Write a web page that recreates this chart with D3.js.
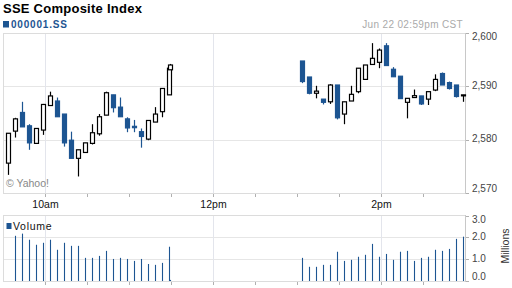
<!DOCTYPE html>
<html>
<head>
<meta charset="utf-8">
<script src="https://cdn.jsdelivr.net/npm/d3@7"></script>
<style>
    body { margin: 0; background: #fff; }
    text { font-family: "Liberation Sans", Arial, sans-serif; }
</style>
</head>
<body>
<script>

// morning session, 5 min bars (bar start time)
const amTimes = ["09:30","09:35","09:40","09:45","09:50","09:55","10:00","10:05","10:10","10:15","10:20","10:25",
                 "10:30","10:35","10:40","10:45","10:50","10:55","11:00","11:05","11:10","11:15","11:20","11:25"];
const amOpen  = [2575.6,2581.6,2585.1,2582.6,2579.3,2581.8,2586.4,2587.25,2584.8,2579.9,2576.5,2577.6,
                 2579.3,2581.1,2584.6,2588.4,2586.1,2583.9,2582.5,2581.5,2580.1,2583.3,2585.25,2588.4];
const amHigh  = [2581.2,2584.1,2587.1,2582.9,2582.1,2586.7,2589.0,2587.9,2584.8,2581.5,2578.1,2579.4,
                 2582.9,2584.8,2589.0,2588.4,2587.9,2584.2,2583.7,2582.1,2583.6,2586.1,2589.6,2593.4];
const amLow   = [2573.4,2580.4,2582.4,2578.1,2579.3,2580.9,2586.4,2584.3,2578.7,2576.5,2573.1,2577.6,
                 2579.1,2580.75,2584.6,2585.1,2584.3,2581.4,2581.4,2578.5,2579.9,2583.3,2584.2,2588.4];
const amClose = [2581.2,2583.9,2582.4,2579.4,2582.1,2586.6,2588.2,2584.3,2579.4,2576.5,2578.1,2579.4,
                 2581.3,2584.3,2588.8,2586.0,2584.3,2582.2,2582.25,2580.6,2583.6,2584.8,2589.6,2593.4];
// volume in millions, first bar has none
const amVolume = [null,2.07,2.17,1.89,1.66,1.75,1.89,1.43,1.75,1.61,1.61,1.06,
                  1.06,1.15,1.38,1.01,1.06,1.01,0.92,1.01,0.78,0.74,0.83,1.57];

// closing print of the morning
const amLast = { time: "11:30", open: 2593.1, high: 2594.2, low: 2593.1, close: 2594.0, volume: 0.05 };

// afternoon session
const pmTimes = ["13:00","13:05","13:10","13:15","13:20","13:25","13:30","13:35","13:40","13:45","13:50","13:55",
                 "14:00","14:05","14:10","14:15","14:20","14:25","14:30","14:35","14:40","14:45","14:50","14:55"];
const pmOpen  = [2594.75,2591.75,2588.7,2587.6,2587.1,2590.25,2584.8,2587.25,2589.0,2591.3,2594.1,2594.5,
                 2597.6,2593.2,2591.9,2587.0,2587.9,2588.2,2587.6,2589.3,2592.4,2590.7,2590.25,2588.4];
const pmHigh  = [2594.75,2591.75,2590.1,2587.6,2590.4,2590.25,2587.1,2590.1,2593.4,2594.0,2598.1,2597.1,
                 2598.1,2593.6,2591.9,2587.75,2589.4,2588.2,2589.0,2592.25,2592.6,2590.9,2590.25,2588.4];
const pmLow   = [2590.6,2588.5,2587.75,2586.6,2586.7,2583.8,2582.9,2587.25,2588.7,2591.2,2594.1,2593.4,
                 2593.9,2591.8,2587.7,2584.0,2587.9,2586.5,2586.5,2589.1,2590.25,2589.4,2587.9,2587.1];
const pmClose = [2590.9,2588.7,2589.1,2587.0,2590.25,2584.1,2587.1,2588.5,2593.4,2594.0,2595.25,2596.8,
                 2593.9,2591.8,2587.7,2587.75,2588.25,2586.7,2589.0,2591.3,2590.25,2589.6,2588.1,2588.4];
const pmVolume = [1.06,0.65,0.65,0.74,0.74,1.34,0.92,0.97,1.11,1.20,1.70,1.11,
                  1.24,0.97,1.34,1.38,0.92,1.06,1.11,1.43,1.38,1.47,1.93,2.03];

const priceTicks = [2570, 2580, 2590, 2600];
const volumeTicks = [0, 1, 2, 3];
const minorTimes = ["10:00","10:30","11:00","11:30","12:00","12:30","13:00","13:30","14:00","14:30"];
const hourTimes = ["10:00","12:00","14:00"];
const hourLabels = ["10am","12pm","2pm"];

document.addEventListener("DOMContentLoaded", () => {

    const width = 512;
    const height = 288;
    const blue = "#1d5592";
    const left = 3, right = 465;

    const toMin = s => { const p = s.split(":"); return +p[0] * 60 + +p[1]; };
    const fmt = d3.format(",");

    const x = d3.scaleLinear().domain([toMin("09:30"), toMin("15:00")]).range([left, right]);
    const y = d3.scaleLinear().domain([2570, 2600]).range([193, 33]);
    const yv = d3.scaleLinear().domain([0, 3]).range([281, 215.5]);

    // bars are drawn a bit to the right of their start time
    const shift = 4.2;
    const bars = [];
    amTimes.forEach((t, i) => bars.push({ t: toMin(t) + shift, o: amOpen[i], h: amHigh[i], l: amLow[i], c: amClose[i], v: amVolume[i] }));
    bars.push({ t: toMin(amLast.time), o: amLast.open, h: amLast.high, l: amLast.low, c: amLast.close, v: amLast.volume });
    pmTimes.forEach((t, i) => bars.push({ t: toMin(t) + shift, o: pmOpen[i], h: pmHigh[i], l: pmLow[i], c: pmClose[i], v: pmVolume[i] }));

    const svg = d3.select("body")
        .append("svg")
        .attr("width", width)
        .attr("height", height);

    svg.append("rect").attr("width", width).attr("height", height).attr("fill", "#fff");

    // header
    svg.append("text").attr("x", 3).attr("y", 12.5)
        .attr("font-size", 13).attr("font-weight", "bold").attr("letter-spacing", 0.25)
        .attr("fill", "#000").text("SSE Composite Index");
    svg.append("rect").attr("x", 3).attr("y", 21).attr("width", 6).attr("height", 6.5).attr("fill", blue);
    svg.append("text").attr("x", 11).attr("y", 27.5)
        .attr("font-size", 10).attr("font-weight", "bold").attr("letter-spacing", 0.8)
        .attr("fill", blue).text("000001.SS");
    svg.append("text").attr("x", 463).attr("y", 27.5).attr("text-anchor", "end")
        .attr("font-size", 10).attr("letter-spacing", 0.35)
        .attr("fill", "#aaa").text("Jun 22 02:59pm CST");

    // panels: grid, frame, axis
    const panel = (scale, ticks, top, bottom) => {
        const g = svg.append("g");
        g.selectAll(".hgrid").data(ticks.slice(1, -1)).enter().append("line")
            .attr("x1", left).attr("x2", right)
            .attr("y1", d => Math.round(scale(d)) + 0.5).attr("y2", d => Math.round(scale(d)) + 0.5)
            .attr("stroke", "#e6e6e6");
        g.selectAll(".vgrid").data(hourTimes).enter().append("line")
            .attr("x1", d => Math.round(x(toMin(d))) + 0.5).attr("x2", d => Math.round(x(toMin(d))) + 0.5)
            .attr("y1", top).attr("y2", bottom)
            .attr("stroke", "#e3e5ec");
        g.append("line").attr("x1", left).attr("x2", right).attr("y1", top + 0.5).attr("y2", top + 0.5).attr("stroke", "#dcdcdc");
        g.append("line").attr("x1", left).attr("x2", right).attr("y1", bottom + 0.5).attr("y2", bottom + 0.5).attr("stroke", "#dcdcdc");
        g.append("line").attr("x1", left + 0.5).attr("x2", left + 0.5).attr("y1", top).attr("y2", bottom).attr("stroke", "#dcdcdc");
        g.append("line").attr("x1", right + 0.5).attr("x2", right + 0.5).attr("y1", top).attr("y2", bottom + 1).attr("stroke", "#c8c8c8");
        // time ticks below
        g.selectAll(".xt").data(minorTimes).enter().append("line")
            .attr("x1", d => Math.round(x(toMin(d))) + 0.5).attr("x2", d => Math.round(x(toMin(d))) + 0.5)
            .attr("y1", bottom + 1).attr("y2", bottom + 4)
            .attr("stroke", "#b0b0b0");
        // value ticks on right
        g.selectAll(".yt").data(ticks).enter().append("line")
            .attr("x1", right + 1).attr("x2", right + 4)
            .attr("y1", d => Math.round(scale(d)) + 0.5).attr("y2", d => Math.round(scale(d)) + 0.5)
            .attr("stroke", "#b0b0b0");
        return g;
    };

    const main = panel(y, priceTicks, 33, 193);
    const vol = panel(yv, volumeTicks, 215, 281);

    // right labels, ends pulled inside the panel
    const labelY = (scale, d, i, n) => {
        const p = scale(d);
        if (i === 0) return p - 1;
        if (i === n - 1) return p + 7;
        return p + 2.5;
    };
    main.selectAll(".yl").data(priceTicks).enter().append("text")
        .attr("x", 472).attr("y", (d, i) => labelY(y, d, i, priceTicks.length))
        .attr("font-size", 10).attr("fill", "#444").text(d => fmt(d));
    vol.selectAll(".yl").data(volumeTicks).enter().append("text")
        .attr("x", 472).attr("y", (d, i) => labelY(yv, d, i, volumeTicks.length))
        .attr("font-size", 10).attr("fill", "#444").text(d => d.toFixed(1));
    svg.append("text").attr("transform", "translate(509,246) rotate(-90)")
        .attr("text-anchor", "middle").attr("font-size", 10.5).attr("fill", "#333").text("Millions");

    // hour labels
    svg.selectAll(".hl").data(hourTimes).enter().append("text")
        .attr("x", d => x(toMin(d)) + 0.5).attr("y", 207.5).attr("text-anchor", "middle")
        .attr("font-size", 10.5).attr("fill", "#111")
        .text((d, i) => hourLabels[i]);

    svg.append("text").attr("x", 6).attr("y", 186.5)
        .attr("font-size", 10.5).attr("fill", "#888").text("\u00a9 Yahoo!");

    // volume legend
    svg.append("rect").attr("x", 6.5).attr("y", 223).attr("width", 5).attr("height", 6).attr("fill", blue);
    svg.append("text").attr("x", 13).attr("y", 230)
        .attr("font-size", 10.5).attr("letter-spacing", 0.7).attr("fill", "#111").text("Volume");

    // candles
    const cx = d => Math.round(x(d.t));
    const col = d => d.c < d.o ? blue : "#000";
    const candles = main.selectAll(".candle").data(bars).enter().append("g").attr("class", "candle");
    candles.append("line")
        .attr("x1", d => cx(d) - 0.5).attr("x2", d => cx(d) - 0.5)
        .attr("y1", d => y(d.h)).attr("y2", d => y(d.l))
        .attr("stroke", col).attr("stroke-width", 1.2);
    candles.append("rect")
        .attr("x", d => cx(d) - 2.5)
        .attr("y", d => y(Math.max(d.o, d.c)))
        .attr("width", 4)
        .attr("height", d => Math.max(1, y(Math.min(d.o, d.c)) - y(Math.max(d.o, d.c))))
        .attr("fill", d => d.c < d.o ? blue : "#fff")
        .attr("stroke", col).attr("stroke-width", 1.2);

    // volume bars
    vol.selectAll(".vbar").data(bars.filter(d => d.v !== null)).enter().append("line")
        .attr("x1", d => cx(d) - 0.5).attr("x2", d => cx(d) - 0.5)
        .attr("y1", yv(0)).attr("y2", d => yv(d.v))
        .attr("stroke", blue).attr("stroke-width", 1.1);

});
</script>
</body>
</html>
